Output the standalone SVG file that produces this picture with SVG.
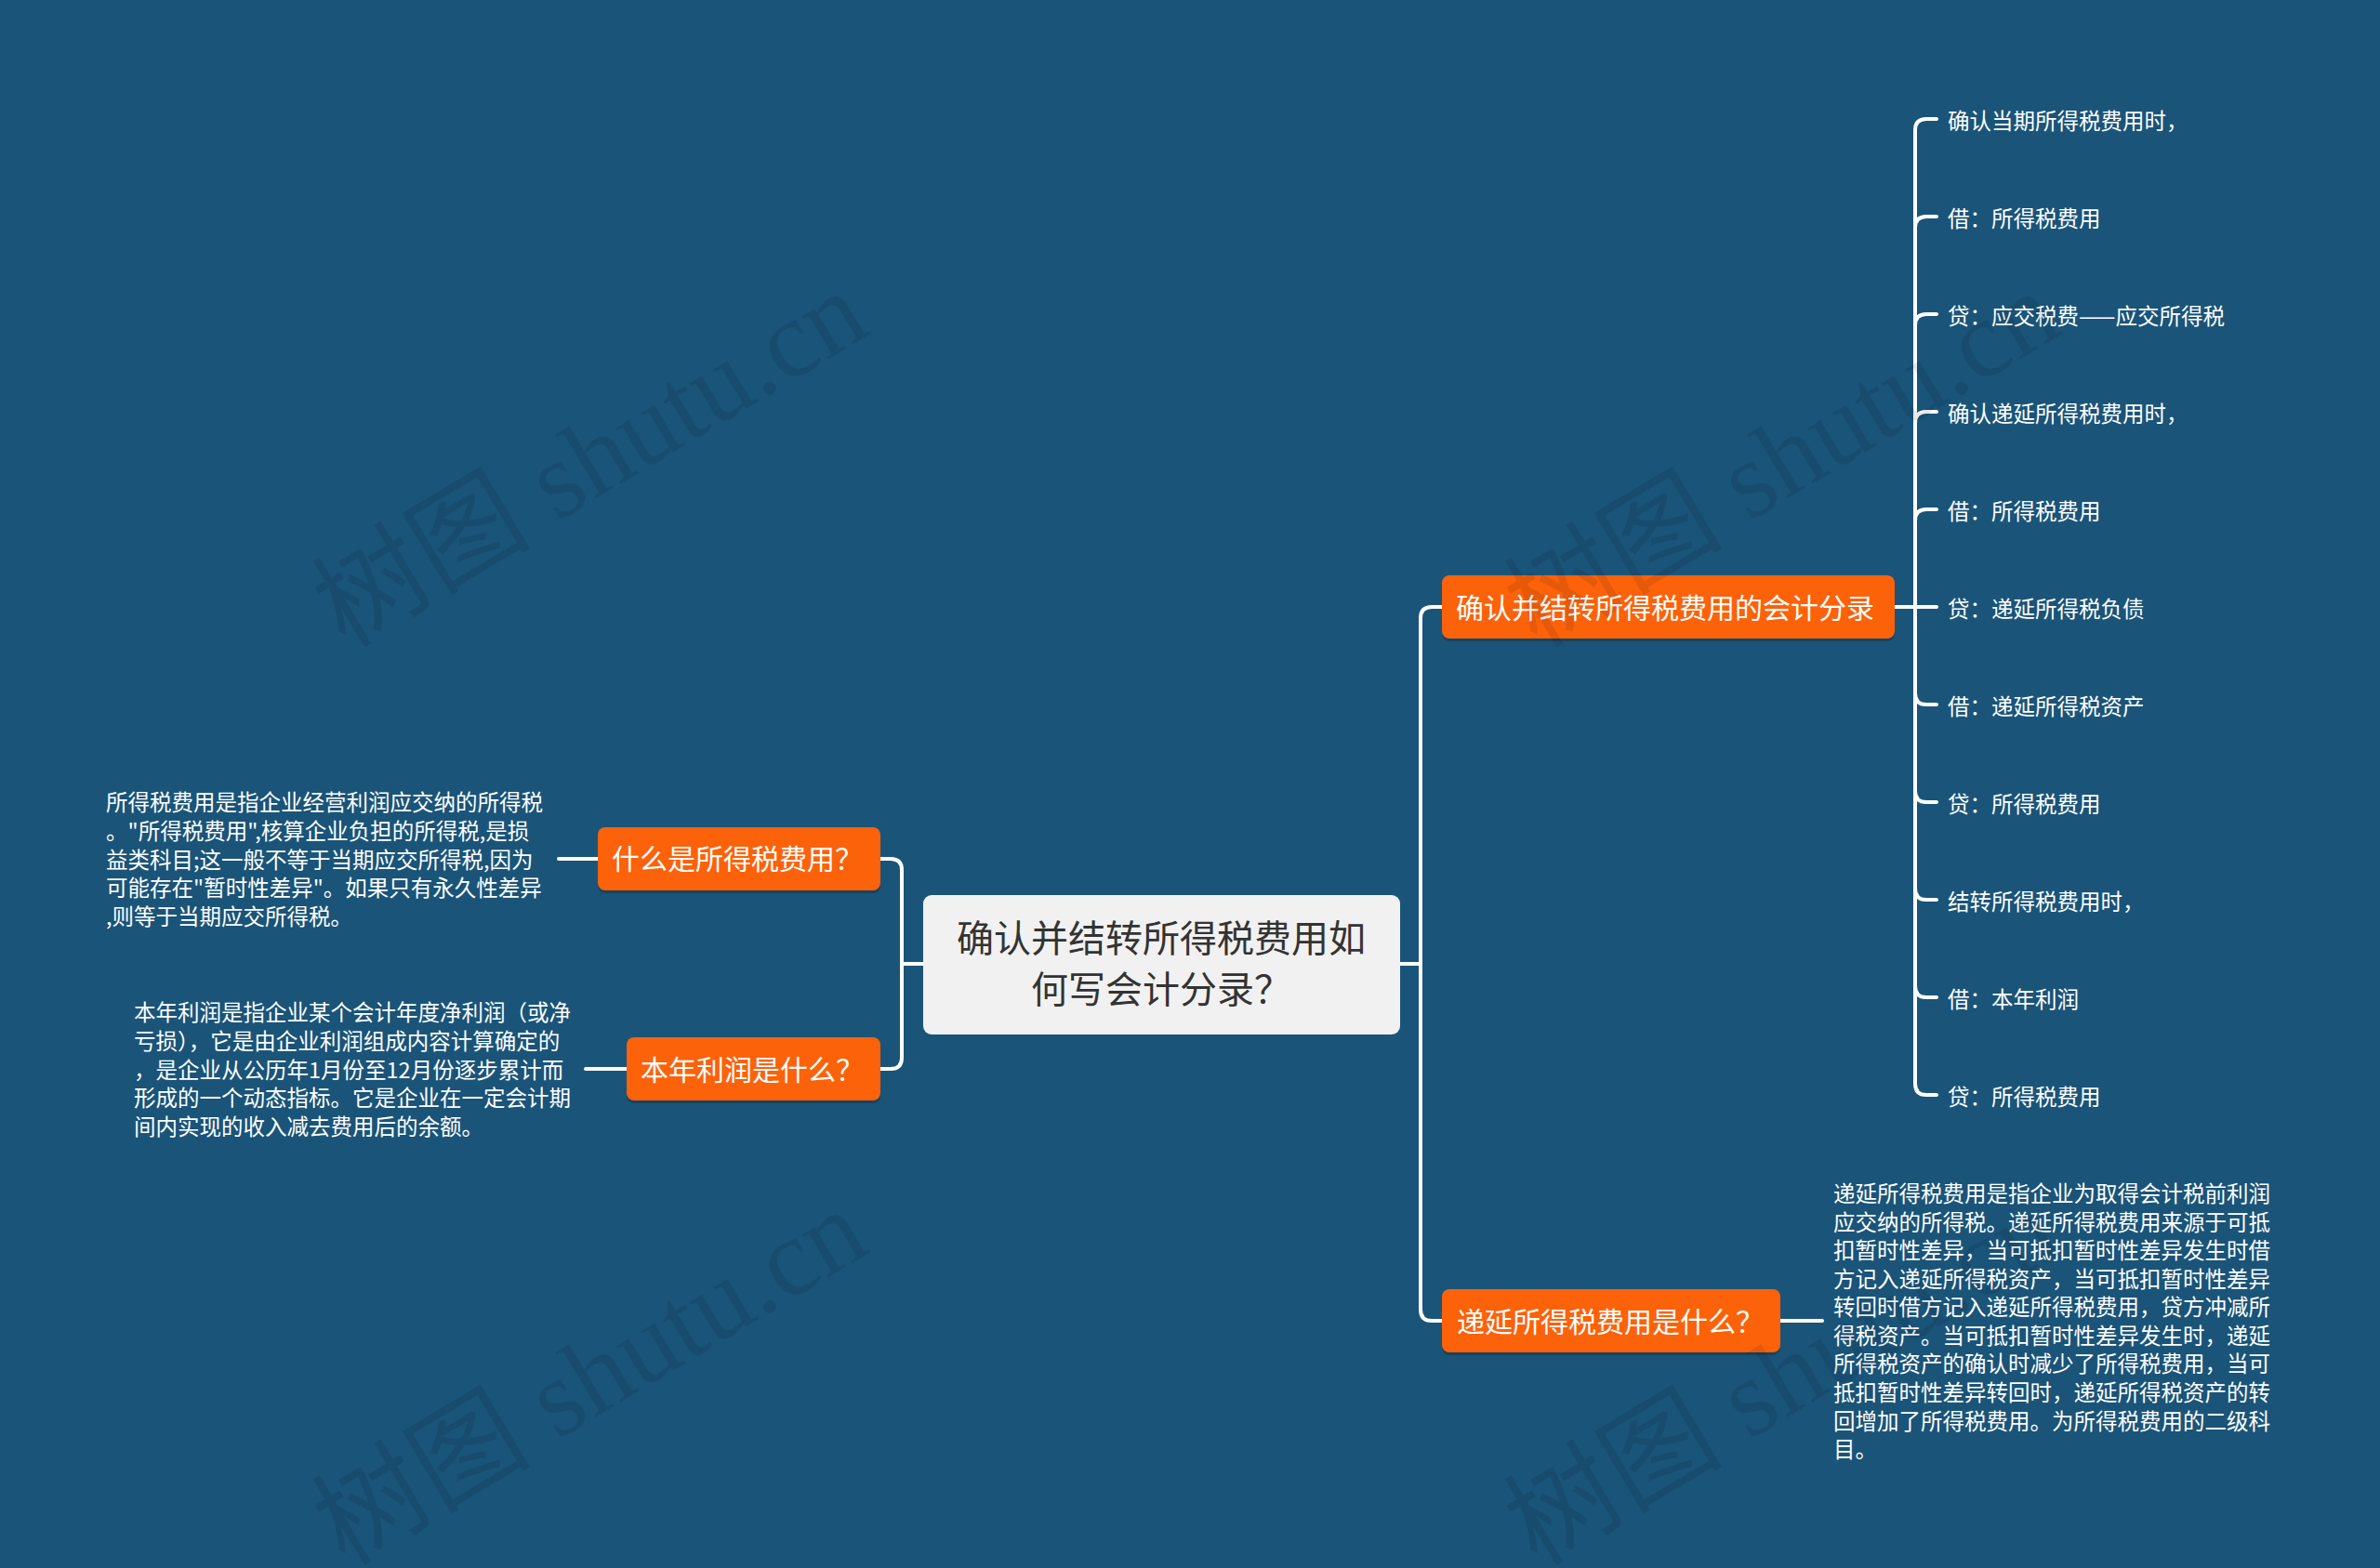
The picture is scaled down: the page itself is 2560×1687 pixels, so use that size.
<svg xmlns="http://www.w3.org/2000/svg" width="2560" height="1687" viewBox="0 0 2560 1687">
<defs>
<style>
.bg{fill:#1a5479}
.wm{font-family:"Liberation Serif","Noto Sans CJK SC",serif;font-size:118px;fill:#000;fill-opacity:0.09}
.line{fill:none;stroke:#ffffff;stroke-width:4;stroke-linecap:round}
.org{fill:#fc620a}
.shd{fill:#000;fill-opacity:0.18}
.otx{font-family:"Noto Sans CJK SC","Noto Sans",sans-serif;font-size:30px;fill:#ffffff;dominant-baseline:central}
.ctx{font-family:"Noto Sans CJK SC","Noto Sans",sans-serif;font-size:40px;fill:#333333;text-anchor:middle;dominant-baseline:central}
.ltx{font-family:"Noto Sans CJK SC","Noto Sans",sans-serif;font-size:23.5px;fill:#ffffff;dominant-baseline:central}
</style>
</defs>
<rect class="bg" x="0" y="0" width="2560" height="1687"/>

<g id="connectors">
<path class="line" d="M1506,1037 H1528"/>
<path class="line" d="M1528,1037 V665 Q1528,653 1540,653 H1551"/>
<path class="line" d="M1528,1037 V1409 Q1528,1421 1540,1421 H1551"/>
<path class="line" d="M993,1037 H970"/>
<path class="line" d="M970,1037 V936 Q970,924 958,924 H947"/>
<path class="line" d="M970,1037 V1138 Q970,1150 958,1150 H947"/>
<path class="line" d="M643,924 H601"/>
<path class="line" d="M674,1150 H630"/>
<path class="line" d="M1915,1421 H1960"/>
<path class="line" d="M2038,653 H2060"/>
<path class="line" d="M2060,653 V140 Q2060,128 2072,128 H2083"/>
<path class="line" d="M2060,653 V245 Q2060,233 2072,233 H2083"/>
<path class="line" d="M2060,653 V350 Q2060,338 2072,338 H2083"/>
<path class="line" d="M2060,653 V455 Q2060,443 2072,443 H2083"/>
<path class="line" d="M2060,653 V560 Q2060,548 2072,548 H2083"/>
<path class="line" d="M2060,653 H2083"/>
<path class="line" d="M2060,653 V746 Q2060,758 2072,758 H2083"/>
<path class="line" d="M2060,653 V851 Q2060,863 2072,863 H2083"/>
<path class="line" d="M2060,653 V956 Q2060,968 2072,968 H2083"/>
<path class="line" d="M2060,653 V1061 Q2060,1073 2072,1073 H2083"/>
<path class="line" d="M2060,653 V1166 Q2060,1178 2072,1178 H2083"/>
</g>

<g id="root">
<rect x="993" y="963" width="513" height="150" rx="9" fill="#f1f1f1"/>
<text class="ctx" x="1249" y="1007">确认并结转所得税费用如</text>
<text class="ctx" x="1249" y="1062">何写会计分录？</text>
</g>

<g id="n-entries">
<rect class="shd" x="1551" y="622" width="487" height="68" rx="8"/>
<rect class="org" x="1551" y="619" width="487" height="68" rx="8"/>
<text class="otx" x="1566" y="652">确认并结转所得税费用的会计分录</text>
</g>

<g id="n-deferred">
<rect class="shd" x="1551" y="1390" width="364" height="68" rx="8"/>
<rect class="org" x="1551" y="1387" width="364" height="68" rx="8"/>
<text class="otx" x="1567" y="1420">递延所得税费用是什么？</text>
</g>

<g id="n-what">
<rect class="shd" x="643" y="893" width="304" height="68" rx="8"/>
<rect class="org" x="643" y="890" width="304" height="68" rx="8"/>
<text class="otx" x="658" y="922">什么是所得税费用？</text>
</g>

<g id="n-profit">
<rect class="shd" x="674" y="1119" width="273" height="68" rx="8"/>
<rect class="org" x="674" y="1116" width="273" height="68" rx="8"/>
<text class="otx" x="689" y="1149">本年利润是什么？</text>
</g>

<g id="leaf-1"><text class="ltx" x="2095" y="129">确认当期所得税费用时，</text></g>
<g id="leaf-2"><text class="ltx" x="2095" y="234">借：所得税费用</text></g>
<g id="leaf-3"><text class="ltx" x="2095" y="339">贷：应交税费——应交所得税</text></g>
<g id="leaf-4"><text class="ltx" x="2095" y="444">确认递延所得税费用时，</text></g>
<g id="leaf-5"><text class="ltx" x="2095" y="549">借：所得税费用</text></g>
<g id="leaf-6"><text class="ltx" x="2095" y="654">贷：递延所得税负债</text></g>
<g id="leaf-7"><text class="ltx" x="2095" y="759">借：递延所得税资产</text></g>
<g id="leaf-8"><text class="ltx" x="2095" y="864">贷：所得税费用</text></g>
<g id="leaf-9"><text class="ltx" x="2095" y="969">结转所得税费用时，</text></g>
<g id="leaf-10"><text class="ltx" x="2095" y="1074">借：本年利润</text></g>
<g id="leaf-11"><text class="ltx" x="2095" y="1179">贷：所得税费用</text></g>

<g id="t-what">
<text class="ltx" x="114" y="862">所得税费用是指企业经营利润应交纳的所得税</text>
<text class="ltx" x="114" y="893">。"所得税费用",核算企业负担的所得税,是损</text>
<text class="ltx" x="114" y="924">益类科目;这一般不等于当期应交所得税,因为</text>
<text class="ltx" x="114" y="954">可能存在"暂时性差异"。如果只有永久性差异</text>
<text class="ltx" x="114" y="985">,则等于当期应交所得税。</text>
</g>

<g id="t-profit">
<text class="ltx" x="144" y="1088">本年利润是指企业某个会计年度净利润（或净</text>
<text class="ltx" x="144" y="1119">亏损），它是由企业利润组成内容计算确定的</text>
<text class="ltx" x="144" y="1150">，是企业从公历年1月份至12月份逐步累计而</text>
<text class="ltx" x="144" y="1180">形成的一个动态指标。它是企业在一定会计期</text>
<text class="ltx" x="144" y="1211">间内实现的收入减去费用后的余额。</text>
</g>

<g id="t-deferred">
<text class="ltx" x="1972" y="1283">递延所得税费用是指企业为取得会计税前利润</text>
<text class="ltx" x="1972" y="1314">应交纳的所得税。递延所得税费用来源于可抵</text>
<text class="ltx" x="1972" y="1344">扣暂时性差异，当可抵扣暂时性差异发生时借</text>
<text class="ltx" x="1972" y="1375">方记入递延所得税资产，当可抵扣暂时性差异</text>
<text class="ltx" x="1972" y="1405">转回时借方记入递延所得税费用，贷方冲减所</text>
<text class="ltx" x="1972" y="1436">得税资产。当可抵扣暂时性差异发生时，递延</text>
<text class="ltx" x="1972" y="1466">所得税资产的确认时减少了所得税费用，当可</text>
<text class="ltx" x="1972" y="1497">抵扣暂时性差异转回时，递延所得税资产的转</text>
<text class="ltx" x="1972" y="1528">回增加了所得税费用。为所得税费用的二级科</text>
<text class="ltx" x="1972" y="1558">目。</text>
</g>

<g id="watermarks">
<text class="wm" text-anchor="middle" transform="translate(655,528) rotate(-31)">树图 shutu.cn</text>
<text class="wm" text-anchor="middle" transform="translate(1937,528) rotate(-31)">树图 shutu.cn</text>
<text class="wm" text-anchor="middle" transform="translate(655,1516) rotate(-31)">树图 shutu.cn</text>
<text class="wm" text-anchor="middle" transform="translate(1937,1516) rotate(-31)">树图 shutu.cn</text>
</g>
</svg>
